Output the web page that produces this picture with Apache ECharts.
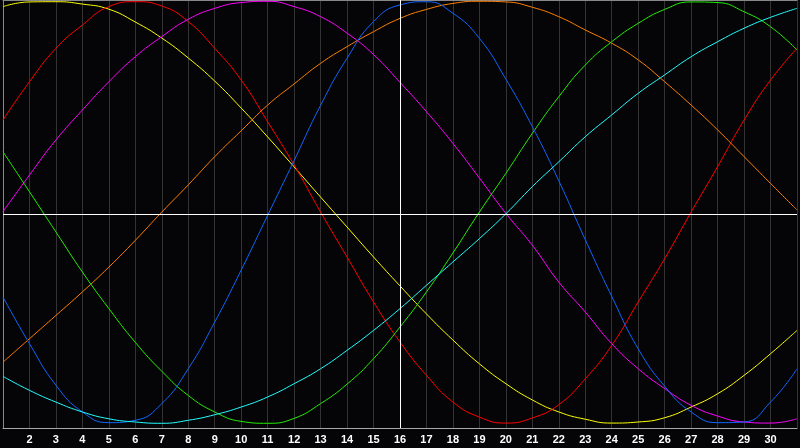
<!DOCTYPE html>
<html>
<head>
<meta charset="utf-8">
<script src="https://cdn.jsdelivr.net/npm/echarts@6/dist/echarts.min.js"></script>
<style>
    html, body { margin: 0; padding: 0; background: #050508; }
    #chart { width: 800px; height: 448px; }
</style>
</head>
<body>
<div id="chart"></div>
<script>
// Jours du mois (axe X)
const days = [1, 2, 3, 4, 5, 6, 7, 8, 9, 10, 11, 12, 13, 14, 15, 16, 17, 18, 19, 20,
    21, 22, 23, 24, 25, 26, 27, 28, 29, 30, 31];
const today = 16;

// Valeurs, une par jour
const yellowValues = [0.969, 0.991, 0.992, 0.981, 0.957, 0.897, 0.822, 0.729, 0.621, 0.495,
    0.360, 0.220, 0.079, -0.061, -0.201, -0.336, -0.467, -0.589, -0.700, -0.793,
    -0.869, -0.925, -0.959, -0.977, -0.972, -0.952, -0.902, -0.840, -0.754, -0.653, -0.544];
const redValues = [0.439, 0.618, 0.774, 0.883, 0.969, 0.992, 0.972, 0.899, 0.774, 0.626,
    0.431, 0.229, 0.009, -0.201, -0.411, -0.598, -0.754, -0.879, -0.949, -0.977,
    -0.953, -0.891, -0.770, -0.614, -0.411, -0.209, 0.009, 0.221, 0.439, 0.626, 0.774];
const magentaValues = [0.011, 0.182, 0.346, 0.486, 0.618, 0.735, 0.829, 0.910, 0.961, 0.988,
    0.994, 0.969, 0.922, 0.845, 0.745, 0.615, 0.478, 0.330, 0.168, 0.003,
    -0.146, -0.318, -0.458, -0.606, -0.723, -0.816, -0.894, -0.944, -0.972, -0.977, -0.957];
const orangeValues = [-0.692, -0.583, -0.474, -0.364, -0.248, -0.123, 0.009, 0.136, 0.268, 0.389,
    0.509, 0.608, 0.704, 0.782, 0.852, 0.914, 0.956, 0.984, 0.994, 0.991,
    0.966, 0.922, 0.860, 0.798, 0.720, 0.618, 0.509, 0.393, 0.268, 0.143, 0.019];
const greenValues = [0.291, 0.104, -0.084, -0.271, -0.442, -0.600, -0.735, -0.848, -0.925, -0.969,
    -0.978, -0.955, -0.886, -0.795, -0.676, -0.528, -0.364, -0.182, 0.009, 0.190,
    0.377, 0.548, 0.696, 0.805, 0.891, 0.956, 0.991, 0.988, 0.945, 0.875, 0.766];
const blueValues = [-0.388, -0.606, -0.800, -0.925, -0.975, -0.964, -0.886, -0.723, -0.505, -0.262,
    -0.006, 0.250, 0.508, 0.728, 0.899, 0.977, 0.992, 0.938, 0.821, 0.630,
    0.408, 0.155, -0.120, -0.385, -0.630, -0.805, -0.925, -0.975, -0.972, -0.879, -0.723];
const cyanValues = [-0.759, -0.824, -0.879, -0.925, -0.957, -0.972, -0.978, -0.964, -0.938, -0.902,
    -0.855, -0.793, -0.723, -0.637, -0.544, -0.442, -0.333, -0.224, -0.115, 0.001,
    0.128, 0.244, 0.361, 0.463, 0.564, 0.650, 0.735, 0.805, 0.868, 0.919, 0.961];

const curves = [
    { name: "yellow", color: "#ffff00", values: yellowValues },
    { name: "red", color: "#ff0000", values: redValues },
    { name: "magenta", color: "#ff00ff", values: magentaValues },
    { name: "orange", color: "#ff8000", values: orangeValues },
    { name: "green", color: "#22ee00", values: greenValues },
    { name: "blue", color: "#1066ff", values: blueValues },
    { name: "cyan", color: "#22ffff", values: cyanValues }
];

// Série vide qui porte seulement les lignes blanches (jour courant et zéro)
const guideSeries = {
    type: "line",
    data: [],
    silent: true,
    z: 1,
    markLine: {
        silent: true,
        symbol: "none",
        label: { show: false },
        lineStyle: { color: "#ffffff", width: 1, type: "solid" },
        data: [{ xAxis: today }, { yAxis: 0 }]
    }
};

const curveSeries = curves.map(c => ({
    name: c.name,
    type: "line",
    smooth: true,
    showSymbol: false,
    z: 3,
    lineStyle: { color: c.color, width: 1 },
    itemStyle: { color: c.color },
    data: days.map((d, i) => [d, c.values[i]])
}));

const option = {
    animation: false,
    backgroundColor: "#050508",
    grid: { left: 0, right: 0, top: 0, bottom: 20 },
    xAxis: [
        {
            type: "value",
            min: 1,
            max: 31,
            interval: 1,
            axisLine: { onZero: false, lineStyle: { color: "#a8a8a8", width: 1 } },
            axisTick: { show: false },
            axisLabel: {
                color: "#ffffff",
                fontFamily: "Liberation Sans",
                fontWeight: "bold",
                fontSize: 11,
                margin: 6,
                formatter: v => (v === 1 || v === 31) ? "" : String(v)
            },
            splitLine: { show: true, lineStyle: { color: "#333333", width: 1 } }
        },
        {
            // bordure du haut
            type: "value",
            position: "top",
            min: 1,
            max: 31,
            axisLine: { onZero: false, lineStyle: { color: "#888888", width: 1 } },
            axisTick: { show: false },
            axisLabel: { show: false },
            splitLine: { show: false }
        }
    ],
    yAxis: {
        type: "value",
        min: -1,
        max: 1,
        axisLine: { show: true, onZero: false, lineStyle: { color: "#888888", width: 1 } },
        axisTick: { show: false },
        axisLabel: { show: false },
        splitLine: { show: false }
    },
    series: [guideSeries].concat(curveSeries)
};

const chart = echarts.init(document.getElementById("chart"));
chart.setOption(option);
</script>
</body>
</html>
